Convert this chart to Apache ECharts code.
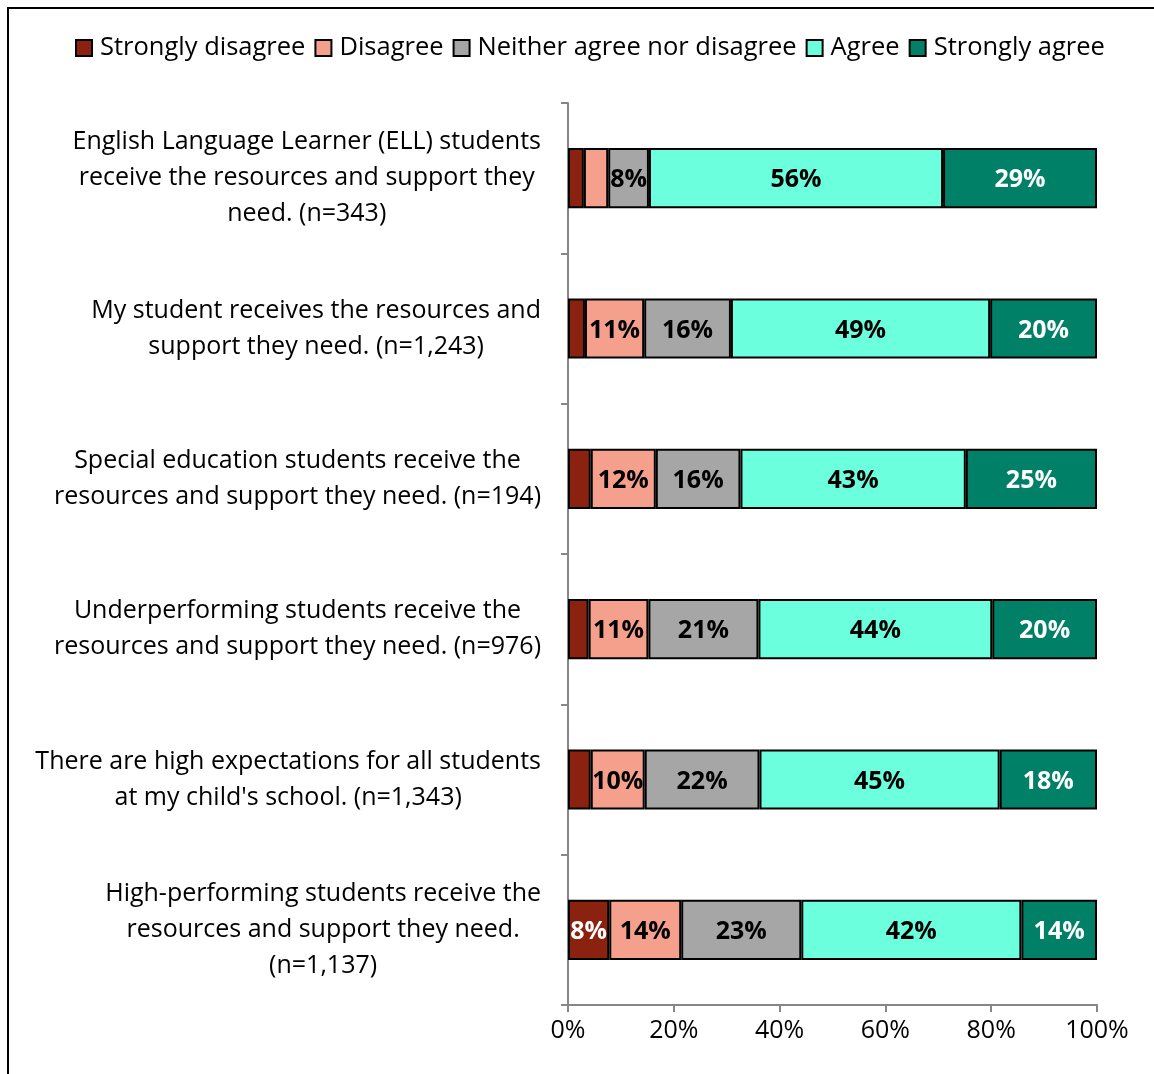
<!DOCTYPE html>
<html>
<head>
<meta charset="utf-8">
<script src="https://cdn.jsdelivr.net/npm/echarts@6/dist/echarts.min.js"></script>
<style>
  html, body { margin: 0; padding: 0; background: #fff; }
  #frame { position: absolute; left: 7px; top: 7px; width: 1160px; height: 1080px; border: 2px solid #000; box-sizing: border-box; }
  #chart { position: absolute; left: 0; top: 0; width: 1154px; height: 1074px; }
</style>
</head>
<body>
<div id="frame"></div>
<div id="chart"></div>
<script>
// Survey statements (top to bottom)
const categories = [
  "English Language Learner (ELL) students\nreceive the resources and support they\nneed. (n=343)",
  "My student receives the resources and\nsupport they need. (n=1,243)",
  "Special education students receive the\nresources and support they need. (n=194)",
  "Underperforming students receive the\nresources and support they need. (n=976)",
  "There are high expectations for all students\nat my child's school. (n=1,343)",
  "High-performing students receive the\nresources and support they need.\n(n=1,137)"
];
const seriesNames = ["Strongly disagree", "Disagree", "Neither agree nor disagree", "Agree", "Strongly agree"];
// Percent of respondents per response option
const stronglyDisagree = [3.0, 3.2, 4.3, 3.9, 4.3, 7.8];
const disagree         = [4.6, 11.2, 12.3, 11.3, 10.2, 13.6];
const neither          = [7.7, 16.4, 16.0, 20.8, 21.7, 22.7];
const agree            = [55.6, 49.0, 42.6, 44.2, 45.4, 41.6];
const stronglyAgree    = [29.1, 20.2, 24.8, 19.8, 18.4, 14.3];
const xTicks = [0, 20, 40, 60, 80, 100];

const colors = ["#8B2210", "#F5A08C", "#A6A6A6", "#6BFFDE", "#008066"];
const labelColors = ["#fff", "#000", "#000", "#000", "#fff"];
const values = [stronglyDisagree, disagree, neither, agree, stronglyAgree];
const FONT = "'Open Sans', Lato, sans-serif";

const series = seriesNames.map((name, i) => ({
  name: name,
  type: "bar",
  stack: "total",
  barWidth: "40%",
  data: values[i],
  itemStyle: { color: colors[i], borderColor: "#000", borderWidth: 2 },
  label: {
    show: true,
    position: "inside",
    offset: [0, 2],
    color: labelColors[i],
    fontFamily: FONT,
    fontWeight: "bold",
    fontSize: 25,
    formatter: p => p.value >= 6 ? Math.round(p.value) + "%" : ""
  }
}));

const chart = echarts.init(document.getElementById("chart"));
chart.setOption({
  animation: false,
  legend: {
    top: 30,
    left: 70,
    itemWidth: 16,
    itemHeight: 16,
    itemGap: 9,
    icon: "rect",
    textStyle: { fontFamily: FONT, fontSize: 25.5, color: "#000", padding: [0, 0, 0, 3] },
    data: seriesNames.map((n, i) => ({ name: n, itemStyle: { color: colors[i], borderColor: "#000", borderWidth: 2 } }))
  },
  grid: { left: 568, right: 57, top: 103, bottom: 69, containLabel: false },
  xAxis: {
    type: "value",
    min: 0,
    max: 100,
    interval: 20,
    axisLine: { show: true, lineStyle: { color: "#868686", width: 2 } },
    axisTick: { show: true, length: 7, lineStyle: { color: "#868686", width: 2 } },
    splitLine: { show: false },
    axisLabel: {
      color: "#000",
      fontFamily: FONT,
      fontSize: 25,
      margin: 13,
      formatter: v => xTicks.includes(v) ? v + "%" : ""
    }
  },
  yAxis: {
    type: "category",
    inverse: true,
    data: categories,
    axisLine: { show: true, lineStyle: { color: "#868686", width: 2 } },
    axisTick: { show: true, length: 7, alignWithLabel: false, lineStyle: { color: "#868686", width: 2 } },
    axisLabel: {
      margin: 27,
      align: "right",
      // each line centred within the label block
      formatter: v => v.split("\n").map(line => "{c|" + line + "}").join("\n"),
      rich: {
        c: { align: "center", color: "#000", fontFamily: FONT, fontSize: 25, lineHeight: 36 }
      }
    }
  },
  series: series
});
</script>
</body>
</html>
